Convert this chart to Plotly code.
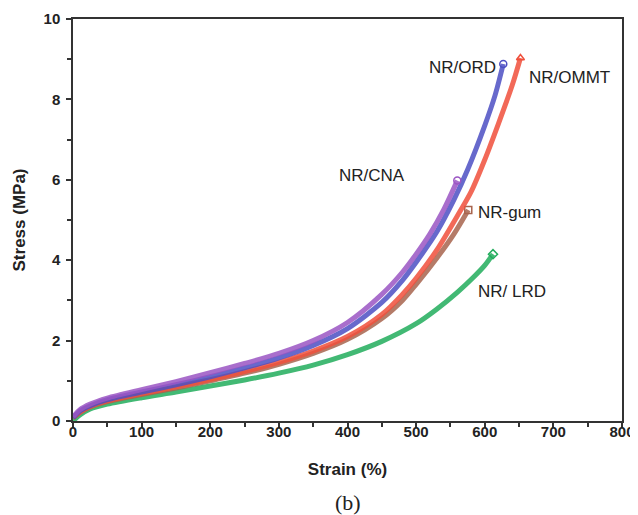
import plotly.graph_objects as go

# NR/CNA (purple)
cna_x = [0, 10, 25, 50, 100, 150, 200, 250, 300, 350, 400, 450, 480, 500, 520, 540, 560]
cna_y = [0.10, 0.28, 0.42, 0.57, 0.78, 0.98, 1.20, 1.43, 1.68, 2.00, 2.45, 3.15, 3.70, 4.15, 4.65, 5.25, 5.98]

# NR/ORD (blue)
ord_x = [0, 10, 25, 50, 100, 150, 200, 250, 300, 350, 400, 450, 480, 500, 530, 555, 575, 600, 615, 627]
ord_y = [0.08, 0.25, 0.38, 0.53, 0.72, 0.90, 1.10, 1.32, 1.57, 1.88, 2.30, 2.95, 3.50, 3.95, 4.70, 5.50, 6.25, 7.35, 8.10, 8.88]

# NR/OMMT (red)
ommt_x = [0, 10, 25, 50, 100, 150, 200, 250, 300, 350, 400, 450, 480, 500, 530, 560, 580, 600, 620, 640, 652]
ommt_y = [0.08, 0.22, 0.36, 0.50, 0.68, 0.85, 1.03, 1.23, 1.46, 1.74, 2.10, 2.65, 3.15, 3.55, 4.25, 5.10, 5.70, 6.50, 7.40, 8.35, 9.03]

# NR-gum (brown)
gum_x = [0, 10, 25, 50, 100, 150, 200, 250, 300, 350, 400, 450, 480, 500, 530, 555, 576]
gum_y = [0.08, 0.21, 0.35, 0.48, 0.66, 0.82, 1.00, 1.19, 1.41, 1.68, 2.03, 2.55, 3.00, 3.40, 4.05, 4.65, 5.25]

# NR/ LRD (green)
lrd_x = [0, 10, 25, 50, 100, 150, 200, 250, 300, 350, 400, 450, 500, 530, 560, 585, 600, 612]
lrd_y = [0.00, 0.15, 0.30, 0.42, 0.58, 0.72, 0.87, 1.02, 1.19, 1.39, 1.65, 1.98, 2.42, 2.78, 3.20, 3.60, 3.87, 4.15]

series = [
    ("NR/CNA", cna_x, cna_y, "#9b55c4", "circle-open"),
    ("NR/ORD", ord_x, ord_y, "#4d4fc4", "circle-open"),
    ("NR/OMMT", ommt_x, ommt_y, "#f0503c", "triangle-up-open"),
    ("NR-gum", gum_x, gum_y, "#a8644e", "square-open"),
    ("NR/ LRD", lrd_x, lrd_y, "#22ad5c", "diamond-open"),
]

labels = ["NR/ORD", "NR/OMMT", "NR/CNA", "NR-gum", "NR/ LRD"]
label_x = [567, 723, 436, 636, 640]
label_y = [8.8, 8.55, 6.11, 5.19, 3.22]

fig = go.Figure()
for name, xs, ys, col, sym in reversed(series):
    fig.add_trace(go.Scatter(
        x=xs, y=ys, mode="lines", name=name,
        line=dict(color=col, width=5, shape="spline", smoothing=0.8),
        opacity=0.85, showlegend=False, hoverinfo="skip"))
    fig.add_trace(go.Scatter(
        x=[xs[-1]], y=[ys[-1]], mode="markers",
        marker=dict(symbol=sym, size=7, color=col, line=dict(width=1.5, color=col)),
        showlegend=False, hoverinfo="skip"))

for t, x, y in zip(labels, label_x, label_y):
    fig.add_annotation(x=x, y=y, text=t, showarrow=False,
                       font=dict(family="Liberation Sans, Arial", size=17, color="#222222"))

fig.add_annotation(x=0.5, y=-0.2015, xref="paper", yref="paper", yanchor="middle",
                   text="(b)", showarrow=False,
                   font=dict(family="Liberation Serif, Times New Roman", size=22, color="#222222"))

axis_common = dict(
    showgrid=False, zeroline=False, showline=True, linecolor="#333333", linewidth=1.5,
    mirror=True, ticks="outside", ticklen=5, tickwidth=1.5, tickcolor="#333333",
    automargin=False,
    tickfont=dict(family="Liberation Sans, Arial", size=15, color="#222222", weight="bold"),
)

fig.update_layout(
    width=630, height=507,
    margin=dict(l=65, r=16, t=11, b=94),
    paper_bgcolor="white", plot_bgcolor="white",
    xaxis=dict(range=[0, 800], dtick=100, ticklabelstandoff=-9,
               minor=dict(dtick=50, ticks="outside", ticklen=4, tickwidth=1.5, tickcolor="#333333"),
               title=dict(text="<b>Strain (%)</b>", standoff=24,
                          font=dict(family="Liberation Sans, Arial", size=17, color="#222222")),
               **axis_common),
    yaxis=dict(range=[0, 10], dtick=2, ticklabelstandoff=3,
               minor=dict(dtick=1, ticks="outside", ticklen=4, tickwidth=1.5, tickcolor="#333333"),
               title=dict(text="<b>Stress (MPa)</b>", standoff=14,
                          font=dict(family="Liberation Sans, Arial", size=17, color="#222222")),
               **axis_common),
)

fig.write_html("out.html")
